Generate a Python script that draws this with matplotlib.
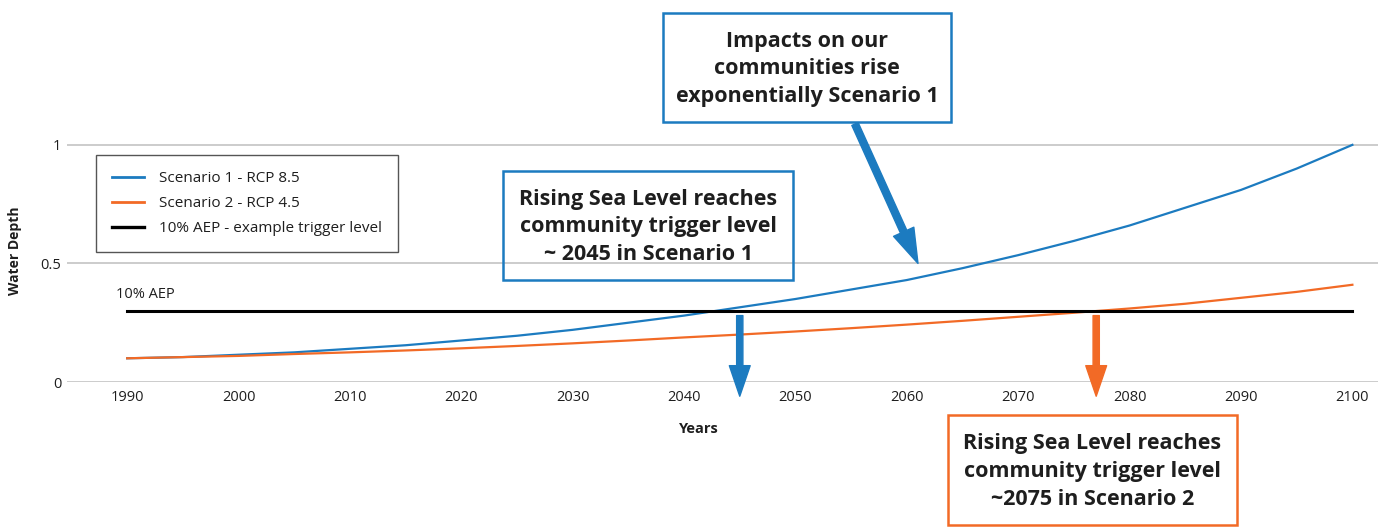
import matplotlib
matplotlib.use("Agg")
import matplotlib.pyplot as plt
from matplotlib.patches import Rectangle
from matplotlib.lines import Line2D

plt.rcParams['font.family'] = ['Open Sans', 'DejaVu Sans']

# modelled water depth, sampled every 5 years
years = [1990, 1995, 2000, 2005, 2010, 2015, 2020, 2025, 2030, 2035, 2040, 2045,
         2050, 2055, 2060, 2065, 2070, 2075, 2080, 2085, 2090, 2095, 2100]
rcp85 = [0.10, 0.105, 0.115, 0.125, 0.14, 0.155, 0.175, 0.195, 0.22, 0.25, 0.28, 0.315,
         0.35, 0.39, 0.43, 0.48, 0.535, 0.595, 0.66, 0.735, 0.81, 0.90, 1.00]
rcp45 = [0.10, 0.105, 0.11, 0.118, 0.125, 0.133, 0.142, 0.152, 0.163, 0.175, 0.188, 0.20,
         0.213, 0.227, 0.242, 0.258, 0.275, 0.292, 0.31, 0.33, 0.355, 0.38, 0.41]

# 10% AEP trigger level
trigger = 0.3
trigger_span = [1990, 2100]

# years where each scenario reaches the trigger (arrow positions)
reach_years = [2045, 2077]

xticks = list(range(1990, 2101, 10))
yticks = [0, 0.5, 1]
ytick_labels = ['0', '0.5', '1']

BLUE = '#1c7bc0'
ORANGE = '#f26a26'
DARK = '#1e1e1e'

W, H = 1389, 527


def fpos(x, y):
    # pixel position (from top-left) -> figure fraction
    return x / W, 1 - y / H


fig = plt.figure(figsize=(W / 100, H / 100), dpi=100)
ax = fig.add_axes([67 / W, (H - 382) / H, (1378 - 67) / W, 249 / H])

ax.plot(years, rcp85, color=BLUE, lw=1.6)
ax.plot(years, rcp45, color=ORANGE, lw=1.6)
ax.plot(trigger_span, [trigger, trigger], color='black', lw=2.2)
ax.text(1989.0, trigger + 0.067, '10% AEP', fontsize=10.5, color=DARK, ha='left', va='center')

ax.set_xlim(1984.6, 2102.3)
ax.set_ylim(0, 1.05)
ax.set_xticks(xticks)
ax.set_yticks(yticks)
ax.set_yticklabels(ytick_labels)
ax.tick_params(length=0, labelsize=10.5, labelcolor=DARK)
ax.tick_params(axis='x', pad=6)
ax.tick_params(axis='y', pad=4)
ax.yaxis.grid(True, color='#c4c4c4', lw=1.2)
for s in ax.spines.values():
    s.set_visible(False)

ax.set_xlabel('Years', fontsize=10.5, fontweight='bold', color=DARK, va='center')
ax.xaxis.set_label_coords((699 - 67) / 1311, (382 - 429) / 249)
ax.set_ylabel('Water Depth', fontsize=10, fontweight='bold', color=DARK, va='center')
ax.yaxis.set_label_coords((15 - 67) / 1311, (382 - 251) / 249)

handles = [Line2D([], [], color=BLUE, lw=2),
           Line2D([], [], color=ORANGE, lw=2),
           Line2D([], [], color='black', lw=2.4)]
labels = ['Scenario 1 - RCP 8.5', 'Scenario 2 - RCP 4.5', '10% AEP - example trigger level']
leg = ax.legend(handles, labels, loc='upper left', bbox_to_anchor=fpos(96, 155),
                bbox_transform=fig.transFigure, borderaxespad=0, fontsize=11,
                handlelength=2.1, handletextpad=0.95, labelspacing=0.65, borderpad=1.05,
                fancybox=False, framealpha=1, edgecolor='#555555')
leg.get_frame().set_linewidth(1.0)
for t in leg.get_texts():
    t.set_color(DARK)

# callout boxes: (left, top, right, bottom) in pixels, colour, text
callouts = [
    ((663, 13, 951, 122), BLUE, 'Impacts on our\ncommunities rise\nexponentially Scenario 1'),
    ((503, 171, 793, 280), BLUE, 'Rising Sea Level reaches\ncommunity trigger level\n~ 2045 in Scenario 1'),
    ((948, 415, 1237, 525), ORANGE, 'Rising Sea Level reaches\ncommunity trigger level\n~2075 in Scenario 2'),
]
for (x0, y0, x1, y1), col, txt in callouts:
    fx0, fy1 = fpos(x0, y1)
    rect = Rectangle((fx0, fy1), (x1 - x0) / W, (y1 - y0) / H, transform=fig.transFigure,
                     fill=False, edgecolor=col, lw=1.8)
    fig.add_artist(rect)
    cx, cy = fpos((x0 + x1) / 2, (y0 + y1) / 2 + 1.5)
    fig.text(cx, cy, txt, ha='center', va='center', fontsize=15.5, fontweight='bold',
             color=DARK, linespacing=1.43)

arrow = 'simple,head_length=22,head_width=15,tail_width=4.5'

# diagonal arrow from the top callout to the Scenario 1 curve
ax.annotate('', xy=(2061, 0.5), xytext=(855, H - 124), textcoords='figure pixels',
            annotation_clip=False,
            arrowprops=dict(arrowstyle='simple,head_length=25,head_width=16,tail_width=5',
                            mutation_scale=1, color=BLUE, shrinkA=0, shrinkB=0))

# vertical arrows down from the trigger crossing to the time axis
for yr, col in zip(reach_years, [BLUE, ORANGE]):
    ax.annotate('', xy=(yr, -0.06), xytext=(yr, trigger - 0.02), annotation_clip=False,
                arrowprops=dict(arrowstyle=arrow, mutation_scale=1, color=col,
                                shrinkA=0, shrinkB=0))

fig.savefig('out.png', dpi=100)
